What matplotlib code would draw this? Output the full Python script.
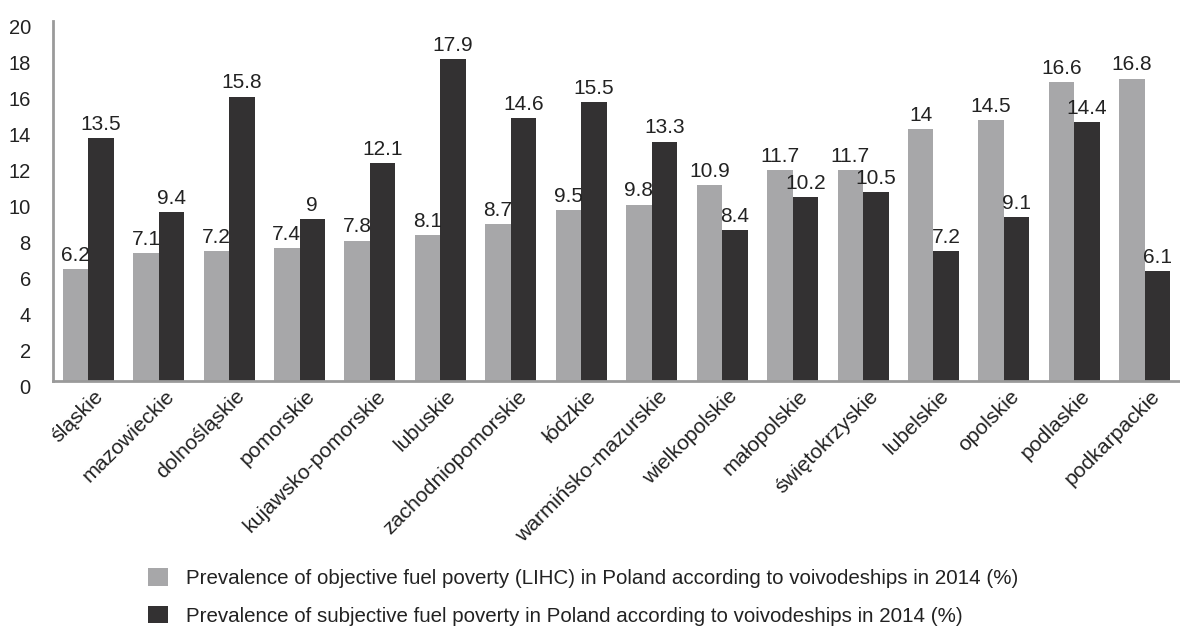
import matplotlib
matplotlib.use("Agg")
import matplotlib.pyplot as plt
import matplotlib.transforms as mtrans
import numpy as np

categories = ["śląskie", "mazowieckie", "dolnośląskie", "pomorskie", "kujawsko-pomorskie",
              "lubuskie", "zachodniopomorskie", "łódzkie", "warmińsko-mazurskie", "wielkopolskie",
              "małopolskie", "świętokrzyskie", "lubelskie", "opolskie", "podlaskie", "podkarpackie"]
objective = [6.2, 7.1, 7.2, 7.4, 7.8, 8.1, 8.7, 9.5, 9.8, 10.9, 11.7, 11.7, 14, 14.5, 16.6, 16.8]
subjective = [13.5, 9.4, 15.8, 9, 12.1, 17.9, 14.6, 15.5, 13.3, 8.4, 10.2, 10.5, 7.2, 9.1, 14.4, 6.1]
yticks = list(range(0, 21, 2))
label_obj = "Prevalence of objective fuel poverty (LIHC) in Poland according to voivodeships in 2014 (%)"
label_subj = "Prevalence of subjective fuel poverty in Poland according to voivodeships in 2014 (%)"

plt.rcParams['font.family'] = ['Liberation Sans', 'DejaVu Sans']

fig = plt.figure(figsize=(11.8, 6.31), dpi=100)
ax = fig.add_axes([53/1180, 1-381/631, 1-53/1180, 360/631])

x = np.arange(len(categories))
w = 0.362
c_obj = "#a7a7a9"
c_subj = "#333132"
txt = "#222222"
b1 = ax.bar(x - w/2, objective, w, color=c_obj, label=label_obj)
b2 = ax.bar(x + w/2, subjective, w, color=c_subj, label=label_subj)

for bars, vals in ((b1, objective), (b2, subjective)):
    for r, v in zip(bars, vals):
        ax.annotate(f"{v:g}", (r.get_x() + r.get_width()/2, v), xytext=(0, 3),
                    textcoords="offset points", ha="center", va="bottom", fontsize=15, color=txt)

ax.set_ylim(0, 20)
ax.set_xlim(-0.5, len(categories) - 0.5)
ax.set_yticks(yticks)
ax.set_yticklabels([str(t) for t in yticks])
ax.set_xticks(x)
ax.set_xticklabels(categories, rotation=45, ha='right', rotation_mode='anchor')
ax.tick_params(axis='y', length=0, labelsize=14.5, pad=16, labelcolor=txt)
ax.tick_params(axis='x', length=0, labelsize=15.3, pad=4, labelcolor=txt)
off = mtrans.ScaledTranslation(0, -5/100, fig.dpi_scale_trans)
for lab in ax.get_yticklabels():
    lab.set_transform(lab.get_transform() + off)
offx = mtrans.ScaledTranslation(6/100, 0, fig.dpi_scale_trans)
for lab in ax.get_xticklabels():
    lab.set_transform(lab.get_transform() + offx)

for s in ('top', 'right'):
    ax.spines[s].set_visible(False)
for s in ('left', 'bottom'):
    ax.spines[s].set_color("#9a9a9a")
    ax.spines[s].set_linewidth(2)

fig.legend(handles=[b1, b2], loc='center left', bbox_to_anchor=(148/1180, 1-597/631),
           frameon=False, fontsize=14.8, handlelength=0.95, handleheight=0.95,
           labelspacing=0.85, handletextpad=0.9, borderpad=0, borderaxespad=0,
           labelcolor=txt)

fig.savefig("out.png", dpi=100)
